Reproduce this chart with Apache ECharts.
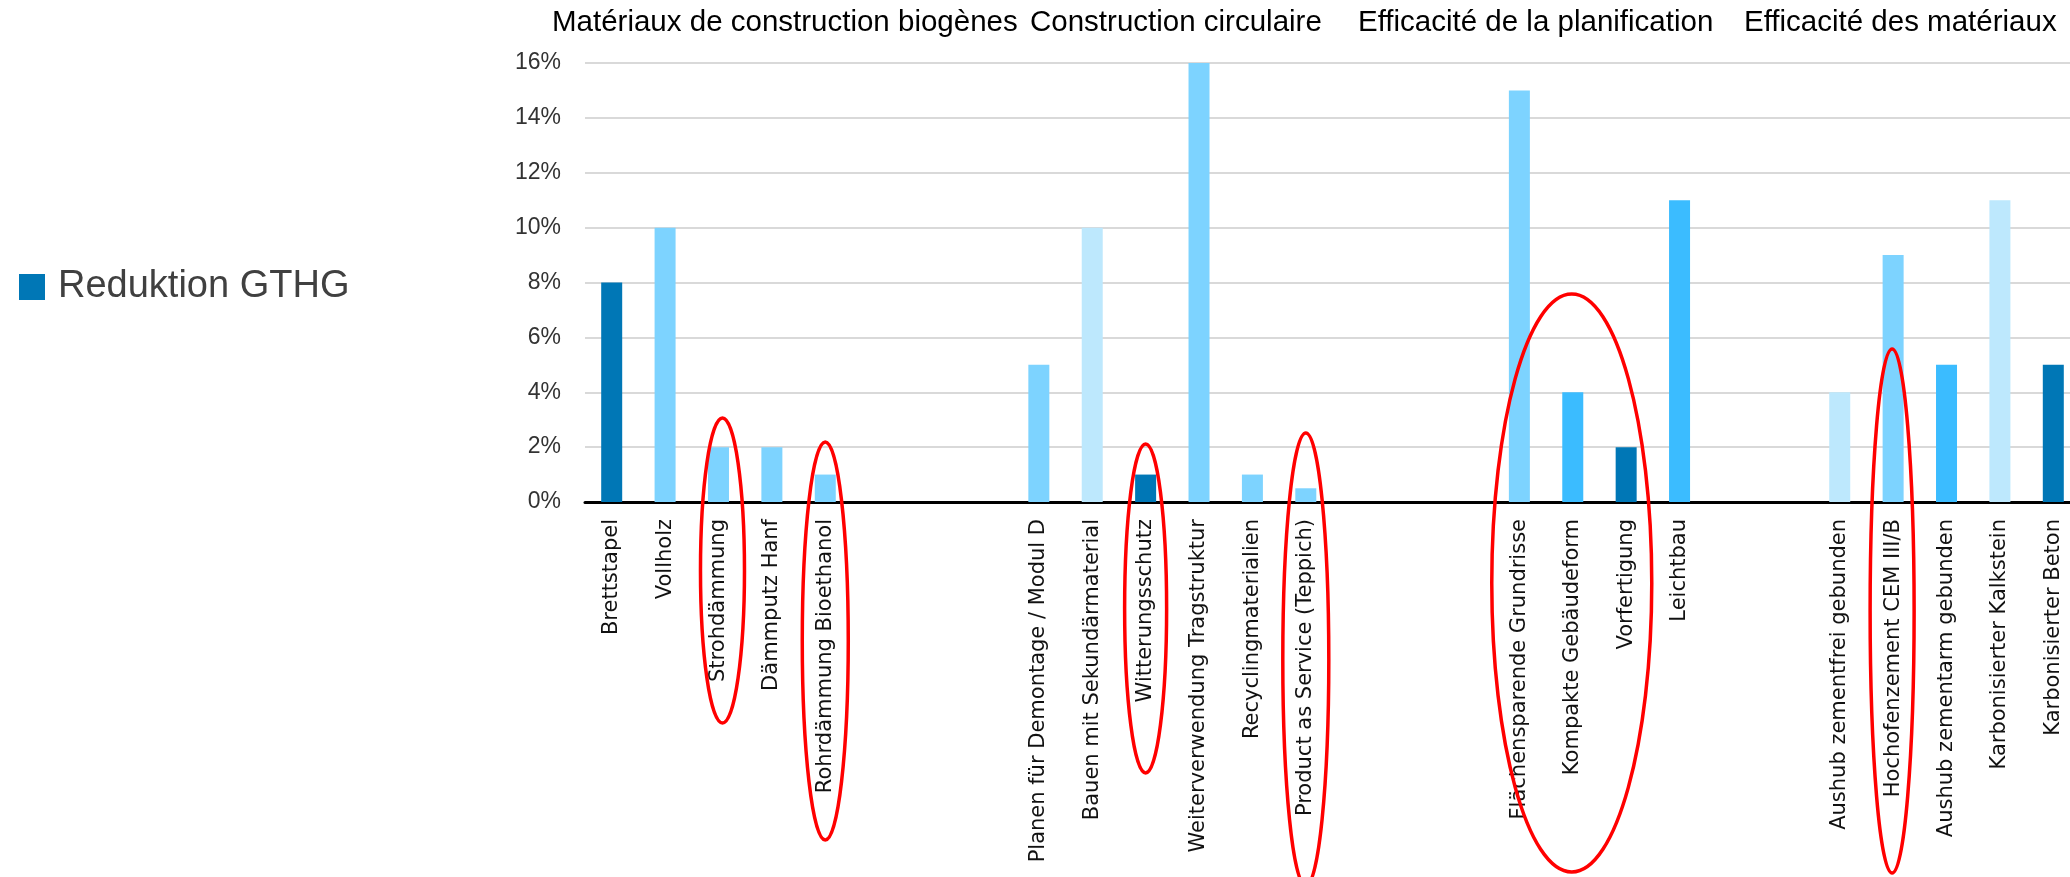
<!DOCTYPE html>
<html><head><meta charset="utf-8">
<script src="https://cdn.jsdelivr.net/npm/echarts@6/dist/echarts.min.js"></script>
<style>html,body{margin:0;padding:0;background:#fff}#c{width:2070px;height:877px}</style>
</head><body><div id="c"></div>
<script>
// ---- data ----
const categories = ['Brettstapel','Vollholz','Strohdämmung','Dämmputz Hanf','Rohrdämmung Bioethanol',' ','  ','   ',
  'Planen für Demontage / Modul D','Bauen mit Sekundärmaterial','Witterungsschutz','Weiterverwendung Tragstruktur','Recyclingmaterialien','Product as Service (Teppich)','    ','     ','      ',
  'Flächensparende Grundrisse','Kompakte Gebäudeform','Vorfertigung','Leichtbau','       ','        ',
  'Aushub zementfrei gebunden','Hochofenzement CEM III/B','Aushub zementarm gebunden','Karbonisierter Kalkstein','Karbonisierter Beton'];
const reduktion = [0.08,0.10,0.02,0.02,0.01,null,null,null,
  0.05,0.10,0.01,0.16,0.01,0.005,null,null,null,
  0.15,0.04,0.02,0.11,null,null,
  0.04,0.09,0.05,0.11,0.05];
const shade = ['dark','light','light','light','light',null,null,null,
  'light','pale','dark','light','light','light',null,null,null,
  'light','mid','dark','mid',null,null,
  'pale','light','mid','pale','dark'];
const groupTitles = ['Matériaux de construction biogènes','Construction circulaire','Efficacité de la planification','Efficacité des matériaux'];
const seriesName = 'Reduktion GTHG';
const highlighted = [['Strohdämmung'],['Rohrdämmung Bioethanol'],['Witterungsschutz'],['Product as Service (Teppich)'],
  ['Flächensparende Grundrisse','Kompakte Gebäudeform','Vorfertigung'],['Hochofenzement CEM III/B']];

// ---- styles ----
const palette = {dark:'#0077B6', light:'#7DD3FF', mid:'#3BBCFF', pale:'#BDE8FD'};
const titleX = [552,1030,1358,1744];
const ellipseGeom = [ // dx, top px, bottom px, rx
  [4,418,723,22],[0,442,840,23],[0,444,773,21],[0,433,886,23],[-1,294,872,80],[-1,349,873,22]];

const chart = echarts.init(document.getElementById('c'), null, {renderer:'canvas'});
const option = {
  animation:false,
  backgroundColor:'#fff',
  grid:{left:585,right:-10,top:63,bottom:375,containLabel:false,outerBoundsMode:'none'},
  legend:{left:14,top:263,icon:'rect',itemWidth:26,itemHeight:26,
    textStyle:{fontSize:38,color:'#404040',fontFamily:'Liberation Sans, Arial, sans-serif',padding:[0,0,0,8]},
    data:[seriesName]},
  xAxis:{type:'category',data:categories,
    axisLine:{lineStyle:{color:'#000',width:3}},axisTick:{show:false},
    axisLabel:{interval:0,rotate:90,margin:17,fontSize:21,color:'#111',fontFamily:'DejaVu Sans, Verdana, sans-serif'}},
  yAxis:{type:'value',min:0,max:0.16,interval:0.02,
    axisLine:{show:false},axisTick:{show:false},
    splitLine:{lineStyle:{color:'#d9d9d9',width:2}},
    axisLabel:{margin:24,fontSize:23,color:'#333',fontFamily:'Liberation Sans, Arial, sans-serif',
      formatter:v=>Math.round(v*100)+'%'}},
  series:[{name:seriesName,type:'bar',barWidth:21,itemStyle:{color:palette.dark},
    data:reduktion.map((v,i)=>v==null?null:{value:v,itemStyle:{color:palette[shade[i]]}})}],
  graphic:groupTitles.map((t,i)=>({type:'text',x:titleX[i],y:23,
    style:{text:t,fontSize:29.5,fill:'#000',fontFamily:'Liberation Sans, Arial, sans-serif',textVerticalAlign:'middle',verticalAlign:'middle'}}))
};
chart.setOption(option);

const ell = highlighted.map((names,i)=>{
  const xs = names.map(n=>chart.convertToPixel({xAxisIndex:0}, n));
  const g = ellipseGeom[i];
  const cx = (Math.min(...xs)+Math.max(...xs))/2 + g[0];
  return {type:'ellipse',shape:{cx:cx,cy:(g[1]+g[2])/2,rx:g[3],ry:(g[2]-g[1])/2},
    style:{fill:'none',stroke:'#FF0000',lineWidth:3.5},z:100};
});
chart.setOption({graphic:option.graphic.concat(ell)});
</script></body></html>
